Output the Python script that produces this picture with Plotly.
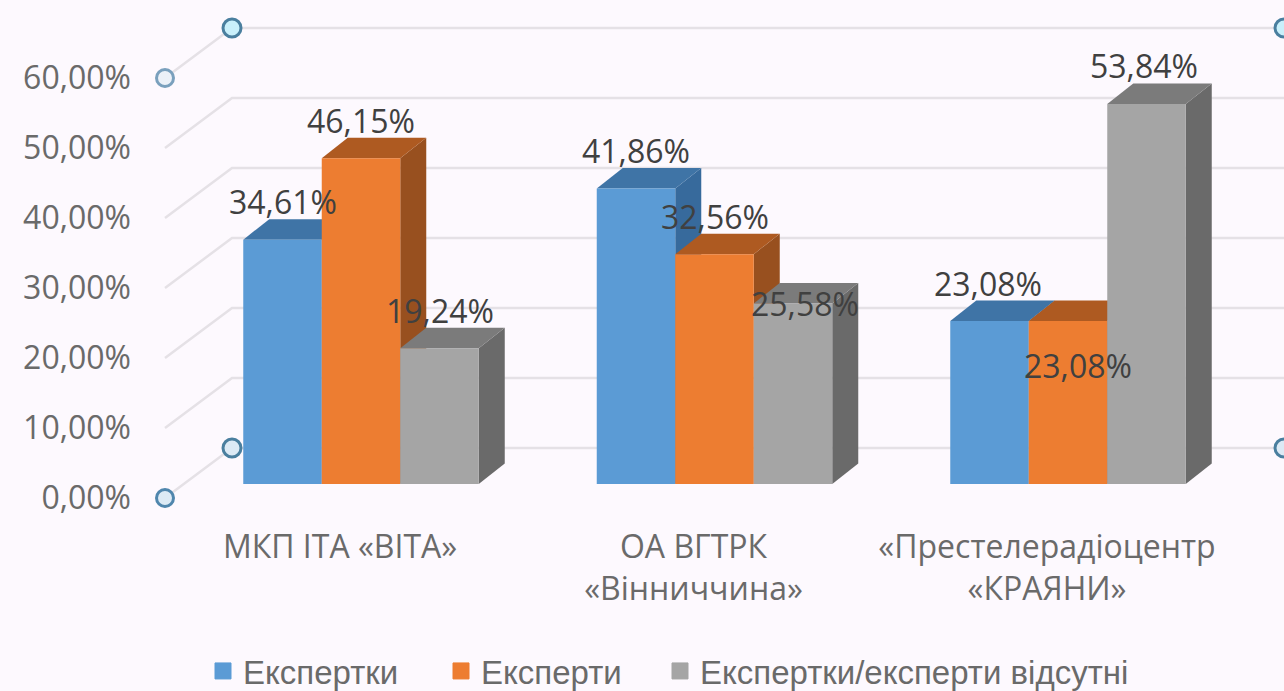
import plotly.graph_objects as go

# ---- data ----
categories = ["МКП ІТА «ВІТА»", "ОА ВГТРК<br>«Вінниччина»", "«Престелерадіоцентр<br>«КРАЯНИ»"]
series_names = ["Експертки", "Експерти", "Експертки/експерти відсутні"]
ekspertky = [34.61, 41.86, 23.08]
eksperty = [46.15, 32.56, 23.08]
vidsutni = [19.24, 25.58, 53.84]
tick_values = [0, 10, 20, 30, 40, 50, 60]

# ---- style / layout ----
W, H = 1284, 691
BG = "#fdf9fe"
FONT = "Open Sans"
LEGEND_FONT = "Liberation Sans"
TEXT = "#404040"
AXTEXT = "#6a6a6a"
GRID = "#e5e1e6"
FRONT = ["#5b9bd5", "#ed7d31", "#a5a5a5"]
TOP = ["#3f74a6", "#ae5a21", "#7b7b7b"]
SIDE = ["#376a9c", "#98501f", "#6a6a6a"]

SP = 353.5            # px per category
BW = 78.5 / SP        # bar width in category units
X0 = 361              # px of first category centre
PXV = 7.06            # px per % for bars
BASE = 484            # px of bar baseline
DX = 26 / SP          # bar depth, x
DY = 20.5 / PXV       # bar depth, y


def xu(px):
    return (px - X0) / SP


def yu(px):
    return (BASE - px) / PXV


def wall(v, dy=0):
    # px of the tick plane is 498 - 7v; returned in bar-axis units
    return yu(498 - dy - 7 * v)


def pct(v):
    return f"{v:.2f}%".replace(".", ",")


all_series = [ekspertky, eksperty, vidsutni]
fig = go.Figure()

# walls and gridlines
xf, xb, xr = xu(165), xu(232), xu(1284)
for t in tick_values:
    fig.add_trace(go.Scatter(
        x=[xf, xb, xr], y=[wall(t), wall(t, 50), wall(t, 50)], mode="lines",
        line=dict(color=GRID, width=2.5), showlegend=False, hoverinfo="skip", zorder=0))
for t, colors in ((0, ("#dceaf5", "#4f86ad")), (60, ("#ecf1f8", "#7aa0bd"))):
    fig.add_trace(go.Scatter(
        x=[xf], y=[wall(t)], mode="markers", cliponaxis=False,
        marker=dict(size=17, color=colors[0], line=dict(color=colors[1], width=3)),
        showlegend=False, hoverinfo="skip", zorder=1))
    back_fill = "#c9f0fb" if t == 60 else "#dceaf5"
    fig.add_trace(go.Scatter(
        x=[xb, xr], y=[wall(t, 50)] * 2, mode="markers", cliponaxis=False,
        marker=dict(size=18, color=back_fill, line=dict(color="#4a7f9f", width=3)),
        showlegend=False, hoverinfo="skip", zorder=1))

# bars
for s, (name, vals) in enumerate(zip(series_names, all_series)):
    for c, v in enumerate(vals):
        r = c + (s - 1) * BW + BW / 2
        l = r - BW
        fig.add_trace(go.Scatter(
            x=[r, r + DX, r + DX, r, r], y=[0, DY, v + DY, v, 0], mode="lines", fill="toself",
            fillcolor=SIDE[s], line=dict(width=0), showlegend=False, hoverinfo="skip", zorder=2 + 2 * s))
        fig.add_trace(go.Scatter(
            x=[l, l + DX, r + DX, r, l], y=[v, v + DY, v + DY, v, v], mode="lines", fill="toself",
            fillcolor=TOP[s], line=dict(width=0), showlegend=False, hoverinfo="skip", zorder=2 + 2 * s))
    fig.add_trace(go.Bar(
        x=list(range(len(categories))), y=vals, name=name, marker=dict(color=FRONT[s], line=dict(width=0)),
        showlegend=False, zorder=3 + 2 * s))
    # legend entry
    fig.add_trace(go.Scatter(
        x=[None], y=[None], mode="markers", name=name, legend="legend" if s == 0 else f"legend{s + 1}",
        marker=dict(symbol="square", size=16, color=FRONT[s], line=dict(color=FRONT[s], width=1)),
        showlegend=True, hoverinfo="skip"))

# carriers that make the two label-only axes render
fig.add_trace(go.Scatter(x=[0], y=[None], xaxis="x2", yaxis="y", mode="lines", showlegend=False, hoverinfo="skip"))
fig.add_trace(go.Scatter(x=[None], y=[0], xaxis="x", yaxis="y2", mode="lines", showlegend=False, hoverinfo="skip"))

# data labels
label_shift = {(0, 2): (-2, 38), (2, 2): (-3, 38), (2, 1): (12, 0), (1, 2): (10, -44)}  # (series, category) -> px
for s, vals in enumerate(all_series):
    for c, v in enumerate(vals):
        sx, sy = label_shift.get((s, c), (0, 38))
        fig.add_annotation(
            x=c + (s - 1) * BW, y=v, xref="x", yref="y", text=pct(v),
            showarrow=False, xshift=sx, yshift=sy, xanchor="center", yanchor="middle",
            font=dict(family=FONT, size=32, color=TEXT))

lg = dict(orientation="h", yanchor="middle", xanchor="left", y=1 - 671 / H, bgcolor="rgba(0,0,0,0)",
          font=dict(family=LEGEND_FONT, size=33, color=AXTEXT), itemwidth=30, borderwidth=0)

fig.update_layout(
    width=W, height=H, autosize=False,
    margin=dict(l=0, r=0, t=0, b=0, autoexpand=False),
    paper_bgcolor=BG, plot_bgcolor=BG,
    barmode="group", bargap=1 - 3 * BW, bargroupgap=0,
    separators=",.",
    showlegend=True,
    legend=dict(lg, x=(211 - 8) / W),
    legend2=dict(lg, x=(449 - 8) / W),
    legend3=dict(lg, x=(668 - 8) / W),
    xaxis=dict(range=[xu(0), xu(W)], visible=False, fixedrange=True),
    yaxis=dict(range=[yu(H), yu(0)], visible=False, fixedrange=True),
    xaxis2=dict(
        overlaying="x", anchor="free", position=1 - 525 / H, side="bottom",
        range=[(0 - 340) / SP, (W - 340) / SP],
        tickmode="array", tickvals=list(range(len(categories))), ticktext=categories,
        tickangle=0, ticklen=0, showgrid=False, zeroline=False, showline=False,
        tickfont=dict(family=FONT, size=32, color=AXTEXT), fixedrange=True),
    yaxis2=dict(
        overlaying="y", anchor="free", position=131 / W, side="left",
        range=[(498 - H) / 7, 498 / 7],
        tickmode="array", tickvals=tick_values, ticktext=[pct(t) for t in tick_values],
        ticklen=0, showgrid=False, zeroline=False, showline=False,
        tickfont=dict(family=FONT, size=32, color=AXTEXT), fixedrange=True),
)

fig.write_html("out.html", config={"displayModeBar": False},
               post_script="document.body.style.margin='0';document.body.style.background='%s';" % BG)
